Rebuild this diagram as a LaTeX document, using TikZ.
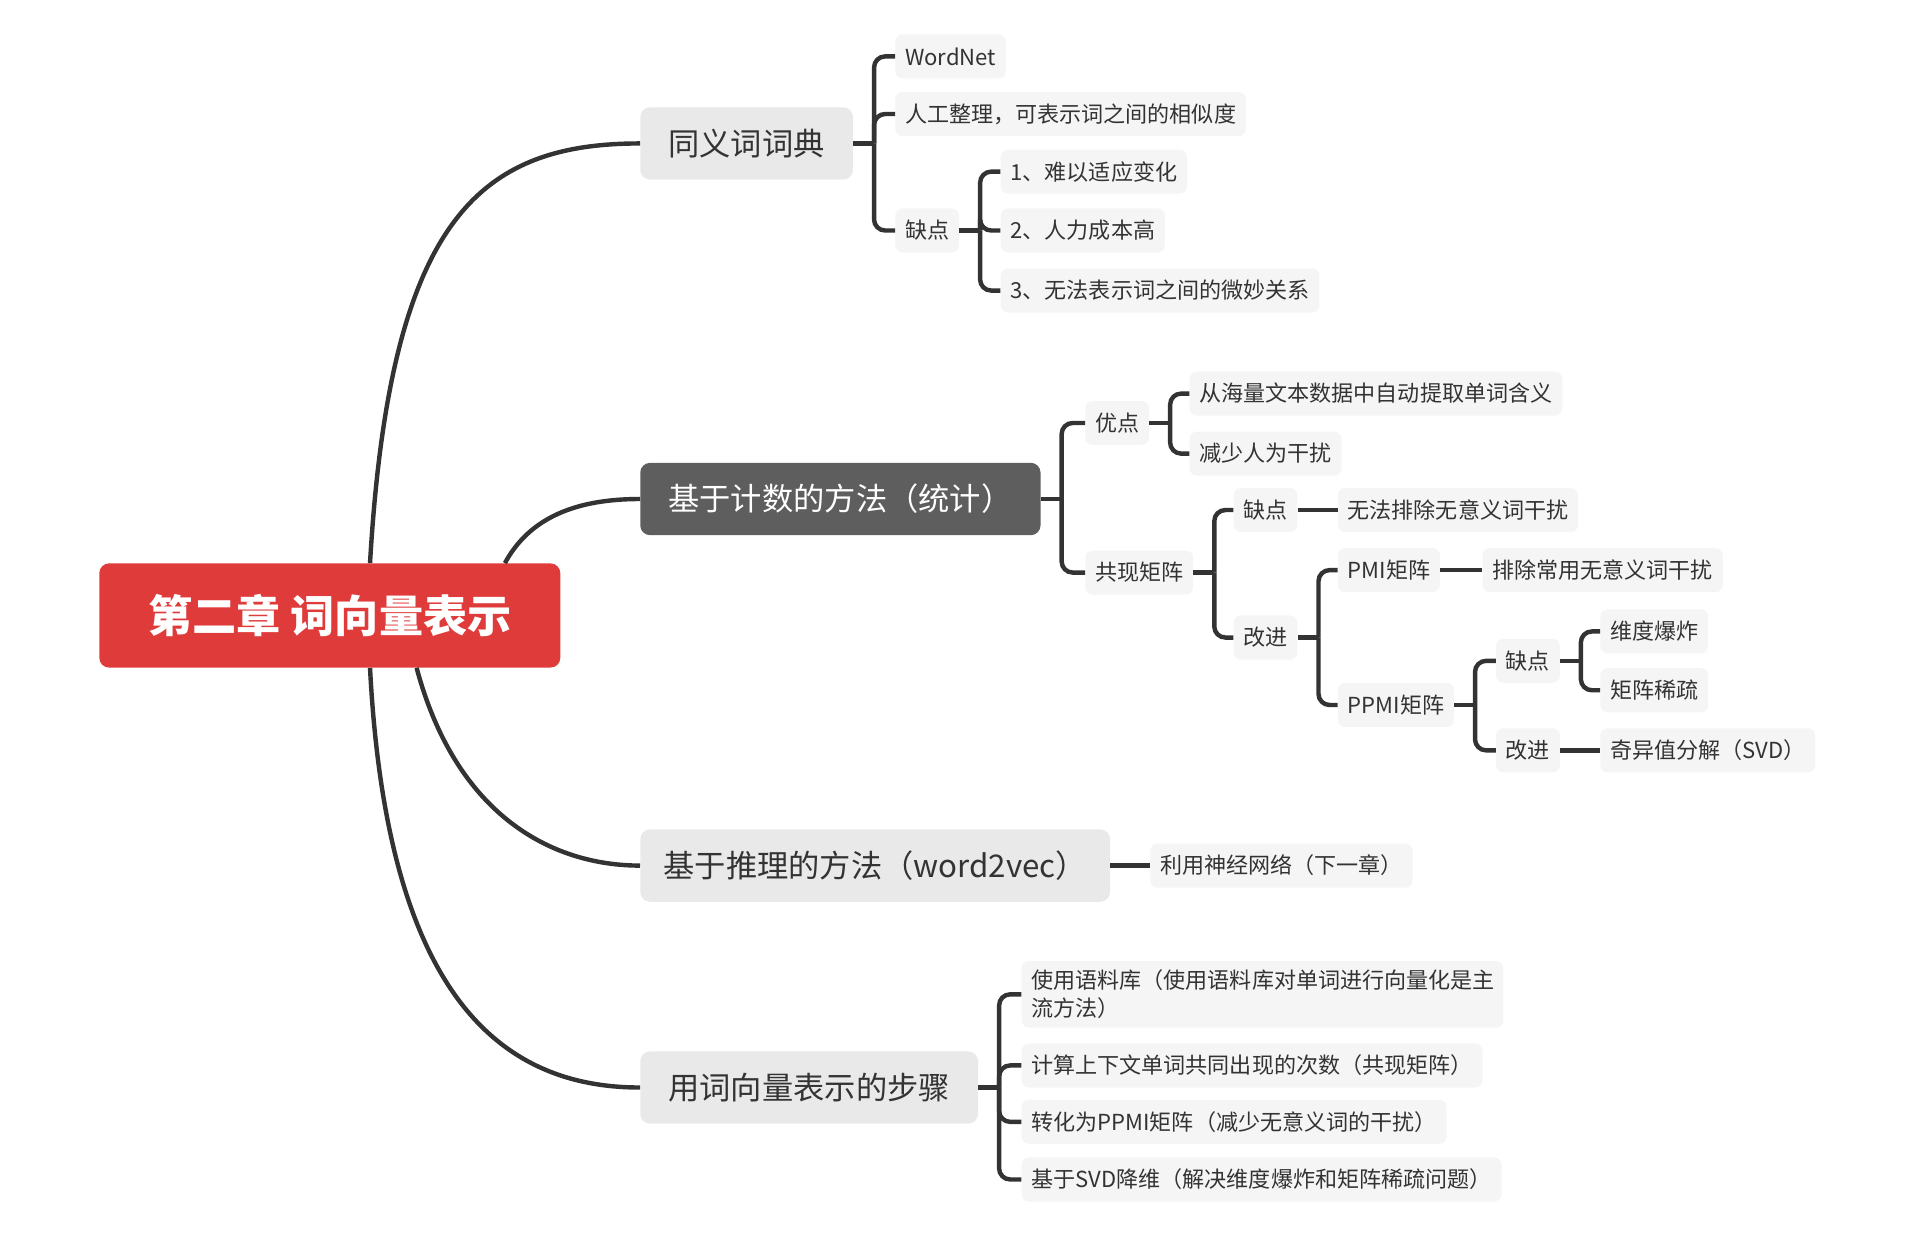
\documentclass[tikz,border=0pt]{standalone}
\usepackage{fontspec}
\setmainfont{Noto Sans CJK SC}
\definecolor{rootred}{HTML}{E03B3B}
\definecolor{mainbg}{HTML}{E9E9E9}
\definecolor{darkbg}{HTML}{5E5E5E}
\definecolor{smallbg}{HTML}{F5F5F5}
\definecolor{ink}{HTML}{333333}
\definecolor{linec}{HTML}{333333}
\tikzset{
  rootbox/.style={fill=rootred, text=white, rounded corners=8pt, minimum width=376pt, minimum height=85pt, font=\fontsize{36}{40}\selectfont\bfseries},
  mainbox/.style={fill=mainbg, text=ink, rounded corners=8pt, minimum height=59pt, inner xsep=23pt, font=\fontsize{25.5}{30}\selectfont, anchor=west},
  darkbox/.style={mainbox, fill=darkbg, text=white},
  leaf/.style={fill=smallbg, text=ink, rounded corners=6pt, minimum height=36pt, inner xsep=8pt, font=\fontsize{18}{23}\selectfont, anchor=west},
  conn/.style={draw=linec, line width=3.6pt},
  elbow/.style={conn, rounded corners=9pt}
}
\begin{document}
\begin{tikzpicture}[x=1pt,y=-1pt]
\useasboundingbox (0,0) rectangle (1566,1024);
% root and main branches
\node[rootbox] (root) at (269,502) {第二章 词向量表示};
\node[mainbox] (syn) at (522,117) {同义词词典};
\node[darkbox] (cnt) at (522,407) {基于计数的方法（统计）};
\node[mainbox, inner xsep=19pt] (inf) at (522,706) {基于推理的方法（word2vec）};
\node[mainbox] (stp) at (522,887) {用词向量表示的步骤};
% curves
\draw[conn] ([xshift=221pt]root.north west) .. controls (318,180) and (390,117) .. (syn.west);
\draw[conn] ([xshift=331pt]root.north west) .. controls (432,422) and (470,407) .. (cnt.west);
\draw[conn] ([xshift=259pt]root.south west) .. controls (372,665) and (450,706) .. (inf.west);
\draw[conn] ([xshift=221pt]root.south west) .. controls (315,800) and (400,887) .. (stp.west);
% synonym dictionary
\node[leaf] (s1) at (730,46) {WordNet};
\node[leaf] (s2) at (730,93) {人工整理，可表示词之间的相似度};
\node[leaf] (s3) at (730,188) {缺点};
\node[leaf] (s31) at (816,140) {1、难以适应变化};
\node[leaf] (s32) at (816,188) {2、人力成本高};
\node[leaf] (s33) at (816,237) {3、无法表示词之间的微妙关系};
% counting
\node[leaf] (c1) at (885,345) {优点};
\node[leaf] (c11) at (970,321) {从海量文本数据中自动提取单词含义};
\node[leaf] (c12) at (970,370) {减少人为干扰};
\node[leaf] (c2) at (885,467) {共现矩阵};
\node[leaf] (c21) at (1006,416) {缺点};
\node[leaf] (c211) at (1091,416) {无法排除无意义词干扰};
\node[leaf] (c22) at (1006,520) {改进};
\node[leaf] (c221) at (1091,465) {PMI矩阵};
\node[leaf] (c2211) at (1209,465) {排除常用无意义词干扰};
\node[leaf] (c222) at (1091,575) {PPMI矩阵};
\node[leaf] (c2221) at (1220,539) {缺点};
\node[leaf] (c22211) at (1305,515) {维度爆炸};
\node[leaf] (c22212) at (1305,563) {矩阵稀疏};
\node[leaf] (c2222) at (1220,612) {改进};
\node[leaf] (c22221) at (1305,612) {奇异值分解（SVD）};
% inference
\node[leaf] (i1) at (938,706) {利用神经网络（下一章）};
% steps
\node[leaf, text width=377pt, align=left, inner ysep=7pt] (p1) at (833,811) {使用语料库（使用语料库对单词进行向量化是主\\流方法）};
\node[leaf] (p2) at (833,869) {计算上下文单词共同出现的次数（共现矩阵）};
\node[leaf] (p3) at (833,915) {转化为PPMI矩阵（减少无意义词的干扰）};
\node[leaf] (p4) at (833,962) {基于SVD降维（解决维度爆炸和矩阵稀疏问题）};
% bracket connectors
\foreach \p/\kids in {syn/{s1,s2,s3}, s3/{s31,s32,s33}, cnt/{c1,c2}, c1/{c11,c12}, c2/{c21,c22}, c22/{c221,c222}, c222/{c2221,c2222}, c2221/{c22211,c22212}, stp/{p1,p2,p3,p4}}{
  \coordinate (j-\p) at ([xshift=17pt]\p.east);
  \draw[conn] (\p.east) -- (j-\p);
  \foreach \c in \kids {\draw[elbow] (j-\p) |- (\c.west);}
}
% straight connectors
\draw[conn] (c21.east) -- (c211.west);
\draw[conn] (c221.east) -- (c2211.west);
\draw[conn] (c2222.east) -- (c22221.west);
\draw[conn] (inf.east) -- (i1.west);
\end{tikzpicture}
\end{document}
